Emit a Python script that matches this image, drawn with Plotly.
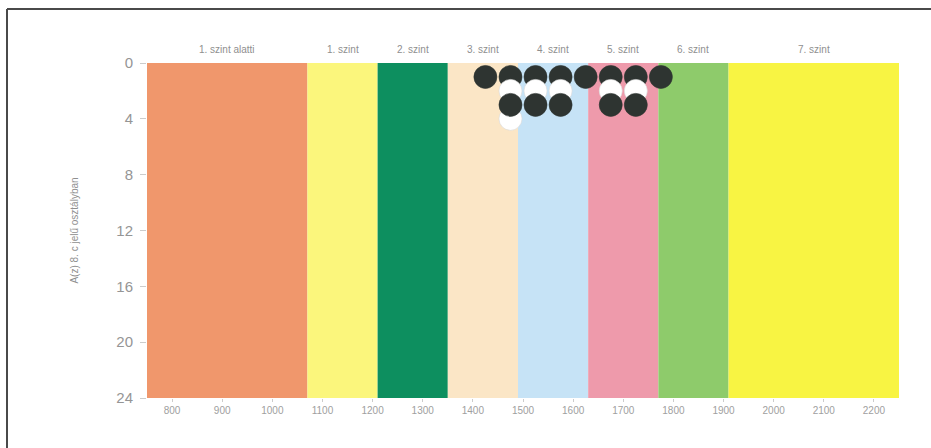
import plotly.graph_objects as go

# Level bands (score boundaries) and labels
level_edges = [750, 1070, 1210, 1350, 1490, 1630, 1770, 1910, 2250]
level_labels = ["1. szint alatti", "1. szint", "2. szint", "3. szint",
                "4. szint", "5. szint", "6. szint", "7. szint"]
level_colors = ["#f0976c", "#fbf67c", "#0d8f5f", "#fbe6c6",
                "#c6e3f6", "#ee9aab", "#8ecb6b", "#f8f443"]

# Students: score bin centres and number of students per bin
bin_centers = [1425, 1475, 1525, 1575, 1625, 1675, 1725, 1775]
bin_counts = [1, 4, 3, 3, 1, 3, 3, 1]

x_ticks = [800, 900, 1000, 1100, 1200, 1300, 1400, 1500, 1600, 1700,
           1800, 1900, 2000, 2100, 2200]
y_ticks = [0, 4, 8, 12, 16, 20, 24]

fig = go.Figure()

# background level bands
for i, lab in enumerate(level_labels):
    fig.add_shape(type="rect", xref="x", yref="y",
                  x0=level_edges[i], x1=level_edges[i + 1], y0=0, y1=24,
                  fillcolor=level_colors[i], line_width=0, layer="below")
    fig.add_annotation(x=(level_edges[i] + level_edges[i + 1]) / 2, xref="x",
                       y=1.039, yref="paper", text=lab, showarrow=False,
                       font=dict(size=10, color="#8f8f8f"), yanchor="middle")

# stacked dots: draw rows in order 1, 2, 4, 3 (as overlapping in the picture)
max_row = max(bin_counts)
order = [1, 2, 4, 3]
for r in order:
    if r > max_row:
        continue
    xs = [c for c, n in zip(bin_centers, bin_counts) if n >= r]
    ys = [r] * len(xs)
    dark = (r % 2 == 1)
    fig.add_trace(go.Scatter(
        x=xs, y=ys, mode="markers", showlegend=False, hoverinfo="skip",
        marker=dict(size=23,
                    color="#2e3431" if dark else "#ffffff",
                    line=dict(color="#2e3431" if dark else "#d8d8d8", width=0.6))))

fig.update_layout(
    width=931, height=448,
    margin=dict(l=147, r=32, t=63, b=50),
    paper_bgcolor="white", plot_bgcolor="white",
    font=dict(family="Liberation Sans, Arial, sans-serif", color="#8f8f8f"),
    xaxis=dict(range=[level_edges[0], level_edges[-1]], tickvals=x_ticks,
               ticks="outside", ticklen=3, tickcolor="#cccccc",
               showgrid=False, zeroline=False, showline=False,
               tickfont=dict(size=10, color="#a0a0a0")),
    yaxis=dict(range=[24, 0], tickvals=y_ticks, ticks="outside", ticklen=6,
               tickcolor="#cccccc", showgrid=False, zeroline=False,
               showline=False, tickfont=dict(size=15, color="#959595"),
               ticklabelstandoff=4,
               title=dict(text="A(z) 8. c jelű osztályban",
                          font=dict(size=10, color="#8f8f8f"), standoff=35)),
)

# outer frame (left and top edges visible, extending past the page edges)
fx = (7 - 147) / 752
fy = (398 - 9) / 335
fx_right = (931 - 147) / 752
fy_bottom = (398 - 448) / 335
fig.add_shape(type="line", xref="paper", yref="paper", x0=fx, x1=fx,
              y0=fy_bottom, y1=fy, line=dict(color="#4a4a4a", width=2))
fig.add_shape(type="line", xref="paper", yref="paper", x0=fx, x1=fx_right,
              y0=fy, y1=fy, line=dict(color="#4a4a4a", width=2))

fig.write_html("out.html", config={"displayModeBar": False},
               post_script="document.body.style.margin='0';")
